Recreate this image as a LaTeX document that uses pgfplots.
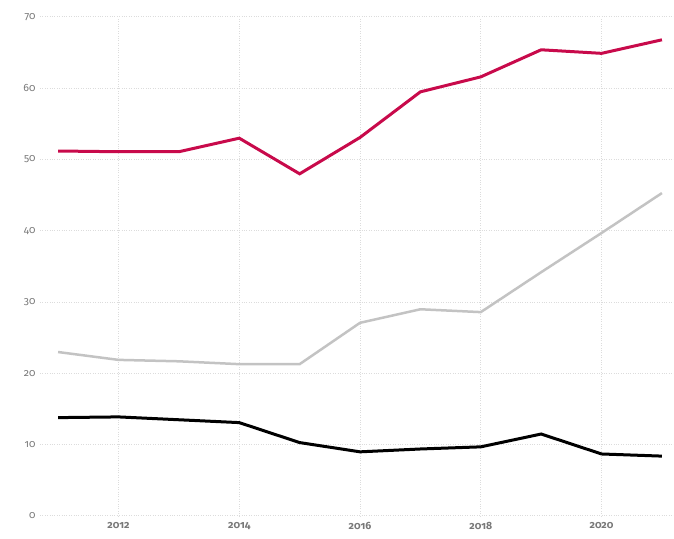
\documentclass[border=0pt]{standalone}
\usepackage{fontspec}
\setmainfont{Fira Sans}[Numbers=OldStyle]
\usepackage{pgfplots}
\pgfplotsset{compat=1.18}
\definecolor{crim}{RGB}{200,10,75}
\definecolor{lgrey}{RGB}{195,195,195}
\definecolor{gridc}{RGB}{220,220,220}
\definecolor{tickc}{RGB}{120,120,120}
\begin{document}
\begin{tikzpicture}[x=1pt,y=1pt]
\begin{axis}[
  name=ax,
  scale only axis,
  width=634pt, height=499pt,
  xmin=2010.7, xmax=2021.2,
  ymin=0, ymax=70,
  axis line style={draw=none},
  clip=false,
  xtick={2012,2014,2016,2018,2020},
  ytick={0,10,20,30,40,50,60,70},
  xmajorgrids, ymajorgrids,
  grid style={gridc, dotted, line width=1pt},
  major tick length=0pt,
  tick style={draw=none},
  /pgf/number format/assume math mode=true,
  /pgf/number format/1000 sep={},
  ticklabel style={font=\fontsize{10.5}{11}\selectfont, text=tickc},
  xticklabel style={font=\fontsize{10.5}{11}\selectfont\bfseries, text=tickc, yshift=-3pt},
  yticklabel style={xshift=-1pt},
]
\addplot[crim, line width=3pt] coordinates {
(2011,51.2) (2012,51.1) (2013,51.1) (2014,53.0) (2015,48.0) (2016,53.1)
(2017,59.5) (2018,61.6) (2019,65.4) (2020,64.9) (2021,66.8)};
\addplot[lgrey, line width=2.5pt] coordinates {
(2011,23.0) (2012,21.9) (2013,21.7) (2014,21.3) (2015,21.3) (2016,27.1)
(2017,29.0) (2018,28.6) (2019,34.2) (2020,39.7) (2021,45.3)};
\addplot[black, line width=3pt] coordinates {
(2011,13.8) (2012,13.9) (2013,13.5) (2014,13.1) (2015,10.3) (2016,9.0)
(2017,9.4) (2018,9.7) (2019,11.5) (2020,8.7) (2021,8.4)};
\end{axis}
\pgfresetboundingbox
\path[use as bounding box] ([xshift=-40pt,yshift=-23pt]ax.south west) rectangle ([yshift=17pt]ax.north east);
\end{tikzpicture}
\end{document}
